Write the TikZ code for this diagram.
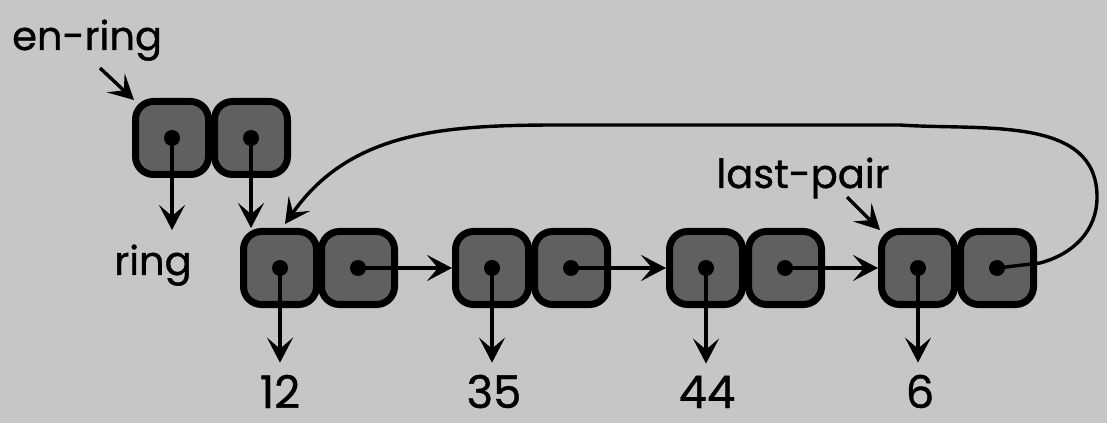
\documentclass[tikz,border=0pt]{standalone}
\usepackage{fontspec}
\setmainfont{Poppins}[FakeBold=0.9]
\usetikzlibrary{arrows.meta}
\definecolor{paper}{HTML}{C6C6C6}
\definecolor{cellfill}{HTML}{606060}
\begin{document}
\begin{tikzpicture}[x=1pt,y=1pt,
  cell/.style={draw=black, line width=7pt, fill=cellfill, rounded corners=18pt,
               minimum size=73pt, inner sep=0pt},
  dot/.style={circle, fill=black, minimum size=16pt, inner sep=0pt},
  ptr/.style={line width=3.4pt, -{Stealth[length=25pt,width=26pt,inset=11pt]}},
  lbl/.style={font=\fontsize{40}{40}\selectfont, inner sep=0pt},
  num/.style={font=\fontsize{45}{45}\selectfont, inner sep=0pt}]
% paper
\fill[paper] (0,0) rectangle (1107,423);
\useasboundingbox (0,0) rectangle (1107,423);

% the en-ring pair
\node[cell] (e1) at (172,285) {};
\node[cell] (e2) at (251,285) {};

% the ring of four pairs
\node[cell] (a1) at (280,155) {};
\node[cell] (a2) at (358,155) {};
\node[cell] (b1) at (492,155) {};
\node[cell] (b2) at (571,155) {};
\node[cell] (c1) at (706,155) {};
\node[cell] (c2) at (785,155) {};
\node[cell] (d1) at (918,155) {};
\node[cell] (d2) at (997,155) {};

% pointer dots
\foreach \c in {e1,e2,a1,a2,b1,b2,c1,c2,d1,d2}
  \node[dot] (\c dot) at (\c) {};

% labels
\node[lbl, anchor=base west] (enring) at (12,373) {en-ring};
\node[lbl, anchor=base] (ring) at (153,148) {ring};
\node[lbl, anchor=base] (lastpair) at (803,235) {last-pair};
\node[num, anchor=base] (n12) at (280,15) {12};
\node[num, anchor=base] (n35) at (494,15) {35};
\node[num, anchor=base] (n44) at (707,15) {44};
\node[num, anchor=base] (n6)  at (920,15) {6};

% loose ends of pointers
\coordinate (enringtail) at (100,355);
\coordinate (lasttail) at (847,226);
\coordinate (ringtip) at (172,193);

% variable pointers
\draw[ptr] (enringtail) -- ([shift={(2pt,-2pt)}]e1.north west);
\draw[ptr] (lasttail) -- ([shift={(2pt,-2pt)}]d1.north west);

% car / cdr of en-ring
\draw[ptr] (e1dot.center) -- (ringtip);
\draw[ptr] (e2dot.center) -- (e2dot.center |- a1.north);

% cars
\draw[ptr] (a1dot.center) -- ([yshift=12pt]a1dot.center |- n12.north);
\draw[ptr] (b1dot.center) -- ([yshift=12pt]b1dot.center |- n35.north);
\draw[ptr] (c1dot.center) -- ([yshift=12pt]c1dot.center |- n44.north);
\draw[ptr] (d1dot.center) -- ([yshift=12pt]d1dot.center |- n6.north);

% cdrs
\draw[ptr] (a2dot.center) -- (b1.west);
\draw[ptr] (b2dot.center) -- (c1.west);
\draw[ptr] (c2dot.center) -- (d1.west);

% last cdr back to the first pair
\draw[ptr] (d2dot.center) -- (1040,160)
  to[out=15,in=-90] (1097,226)
  to[out=90,in=-4] (900,298)
  -- (560,298)
  to[out=180,in=55] ([xshift=5pt,yshift=4pt]a1.north);
\end{tikzpicture}
\end{document}
